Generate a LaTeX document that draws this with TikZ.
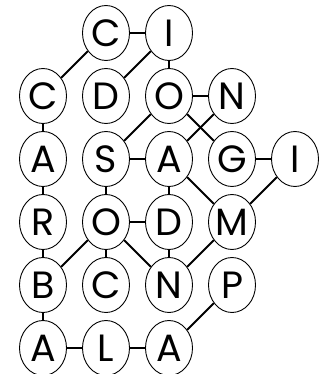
\documentclass[tikz,border=0pt]{standalone}
\usepackage{fontspec}
\setmainfont{Poppins}
\usetikzlibrary{shapes.geometric}
\tikzset{letter/.style={draw,ellipse,line width=0.9pt,fill=white,
                        minimum width=47pt,minimum height=55pt,inner sep=0pt,
                        font=\fontsize{38}{40}\selectfont},
         link/.style={line width=1.8pt}}

\begin{document}
\begin{tikzpicture}[x=1pt,y=-1pt]
  \useasboundingbox (0,0) rectangle (326,374);
  \foreach \row/\vals in {
    0/{1/C,2/I},
    1/{0/C,1/D,2/O,3/N},
    2/{0/A,1/S,2/A,3/G,4/I},
    3/{0/R,1/O,2/D,3/M},
    4/{0/B,1/C,2/N,3/P},
    5/{0/A,1/L,2/A}}
  {
    \foreach \col/\ch in \vals {
      \node[letter] (n\row\col) at (43+63*\col, 33+63*\row) {\ch};
    }
  }
  % links between letters
  \foreach \a/\b in {01/02, 01/10, 02/11, 02/12, 12/13, 12/21, 12/23,
                     13/22, 10/20, 21/22, 23/24, 20/30, 21/31, 22/32,
                     22/33, 24/33, 31/32, 30/40, 31/40, 31/41, 31/42,
                     32/42, 33/42, 40/50, 43/52, 50/51, 51/52}
    \draw[link] (n\a) -- (n\b);
\end{tikzpicture}
\end{document}
